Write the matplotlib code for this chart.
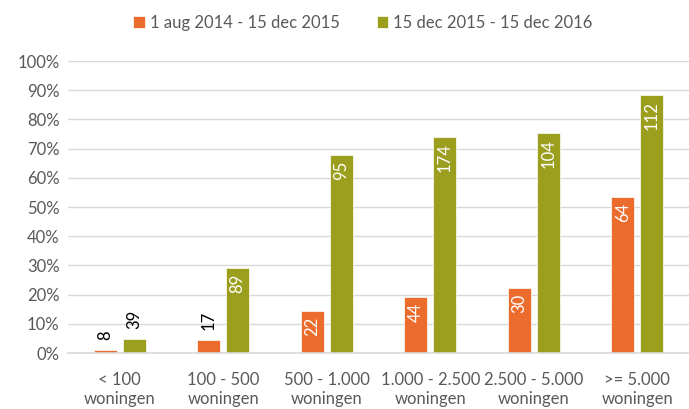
import matplotlib.pyplot as plt
import numpy as np
from matplotlib.ticker import PercentFormatter

plt.rcParams['font.family'] = ['Lato', 'DejaVu Sans']

categories = ['< 100\nwoningen', '100 - 500\nwoningen', '500 - 1.000\nwoningen',
              '1.000 - 2.500\nwoningen', '2.500 - 5.000\nwoningen', '>= 5.000\nwoningen']
series_names = ['1 aug 2014 - 15 dec 2015', '15 dec 2015 - 15 dec 2016']
pct_2015 = [1.0, 4.5, 14.5, 19.2, 22.3, 53.4]
pct_2016 = [4.8, 29.1, 67.8, 74.0, 75.3, 88.4]
counts_2015 = [8, 17, 22, 44, 30, 64]
counts_2016 = [39, 89, 95, 174, 104, 112]

orange = '#EB6C2C'
green = '#9C9F1E'
text_col = '#595959'

fig = plt.figure(figsize=(6.89, 4.09), dpi=100)
ax = fig.add_axes([68 / 689, 56 / 409, 621 / 689, 292 / 409])

x = np.arange(len(categories))
w = 0.225
off = 0.14
b1 = ax.bar(x - off, pct_2015, w, color=orange, edgecolor='white', linewidth=0.5, label=series_names[0])
b2 = ax.bar(x + off, pct_2016, w, color=green, edgecolor='white', linewidth=0.5, label=series_names[1])

for bars, counts in [(b1, counts_2015), (b2, counts_2016)]:
    for bar, c in zip(bars, counts):
        h = bar.get_height()
        cx = bar.get_x() + bar.get_width() / 2
        if h < 10:
            ax.text(cx, h + 3.5, str(c), rotation=90, ha='center', va='bottom',
                    fontsize=12, color='black')
        else:
            ax.text(cx, h - 2, str(c), rotation=90, ha='center', va='top',
                    fontsize=12, color='white')

ax.set_xlim(-0.5, 5.5)
ax.set_ylim(0, 100)
ax.set_yticks(np.arange(0, 101, 10))
ax.yaxis.set_major_formatter(PercentFormatter(decimals=0))
ax.set_xticks(x)
ax.set_xticklabels(categories)
ax.grid(axis='y', color='#D9D9D9', linewidth=1)
ax.set_axisbelow(True)
for s in ['top', 'right', 'left']:
    ax.spines[s].set_visible(False)
ax.spines['bottom'].set_color('#D9D9D9')
ax.spines['bottom'].set_linewidth(1.2)
ax.tick_params(axis='both', length=0, labelsize=12, colors=text_col, pad=6)
ax.tick_params(axis='x', pad=14)

fig.legend(loc='upper center', bbox_to_anchor=(0.527, 1.0), ncol=2, frameon=False,
           fontsize=12, labelcolor=text_col, handlelength=0.7, handleheight=0.7,
           handletextpad=0.3, columnspacing=2.2)

fig.savefig('out.png', dpi=100)
